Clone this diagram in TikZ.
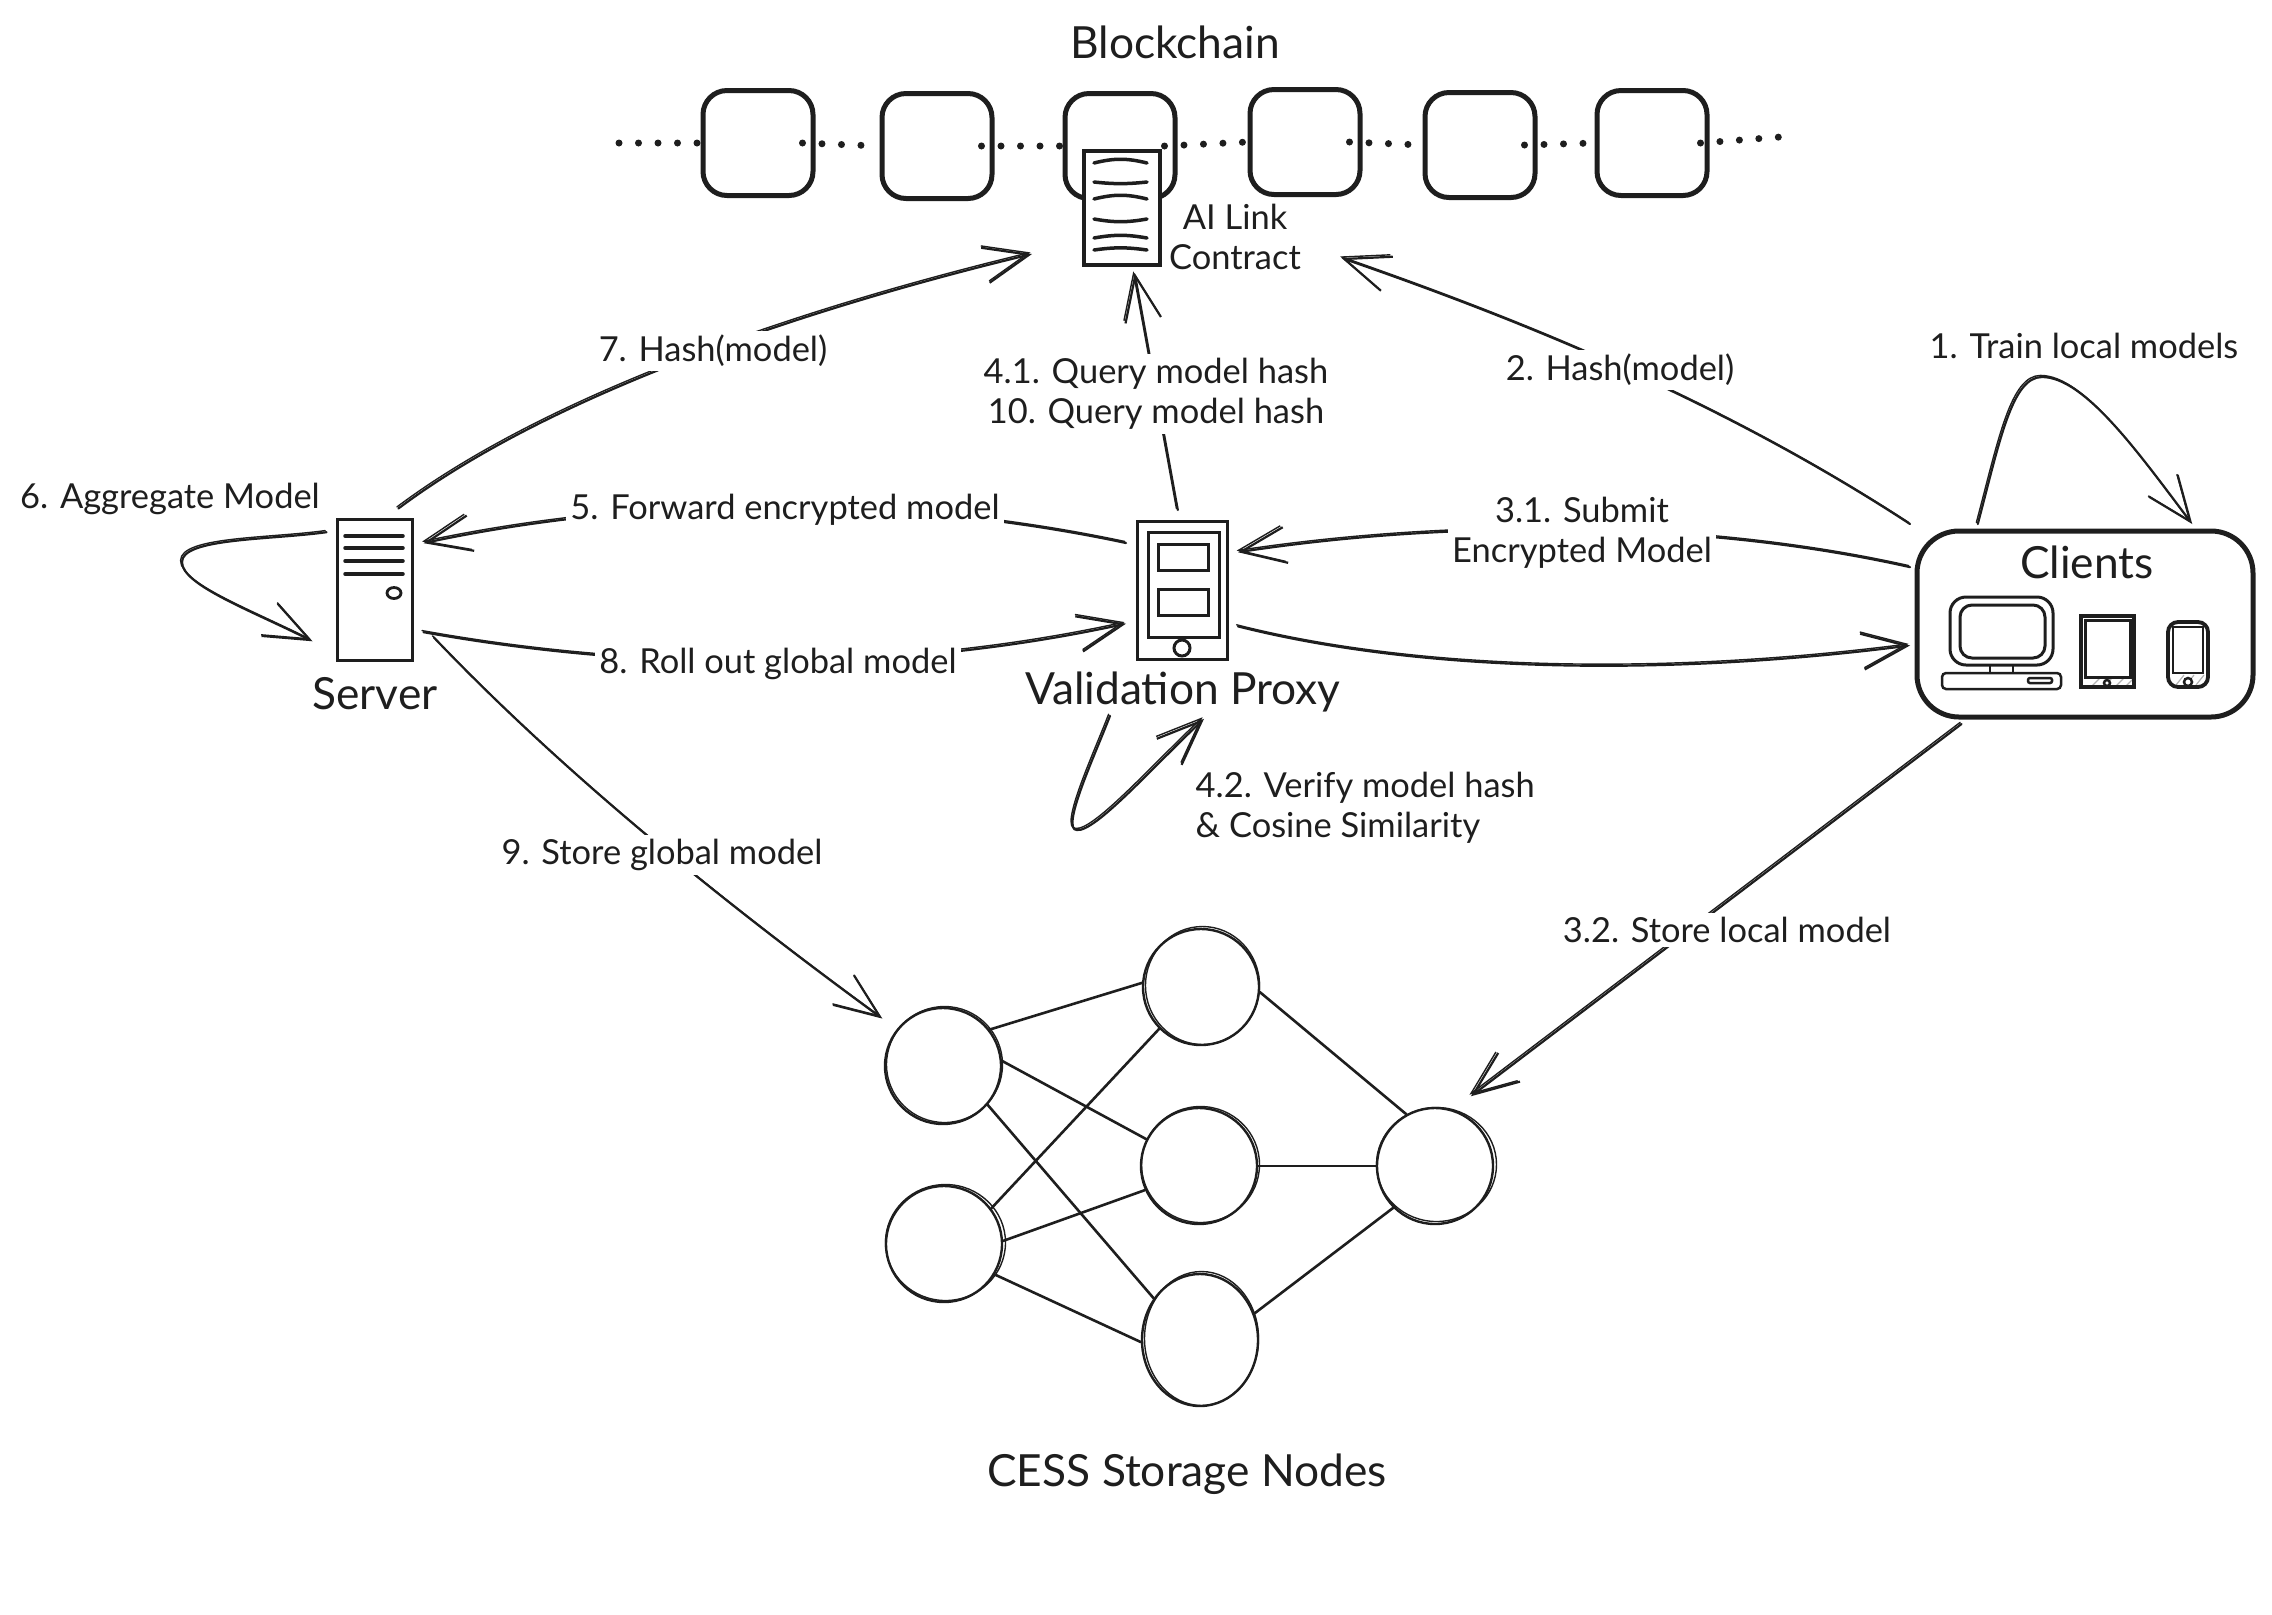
\documentclass[tikz,border=0pt]{standalone}
\usepackage{fontspec}
\setmainfont{Lato}
\usepackage{xcolor}
\definecolor{InkBlack}{HTML}{1E1E1E}
\usepackage{tikz}
\usetikzlibrary{arrows.meta,positioning,calc,shapes.geometric}
\begin{document}
\begin{tikzpicture}[x=0.1mm,y=-0.1mm,color=InkBlack,
  lbl/.style={fill=white,inner sep=0.4mm,align=center,text=InkBlack,font=\fontsize{9.8}{11.4}\selectfont},
  title/.style={inner sep=0.4mm,align=center,text=InkBlack,font=\fontsize{12.6}{14}\selectfont},
  arr/.style={-{Straight Barb[length=4.5mm,width=3.6mm]},line width=0.22mm,line cap=round,
    postaction={draw,line width=0.14mm,transform canvas={xshift=-0.14mm,yshift=0.16mm}}},
  block/.style={draw,fill=white,rounded corners=2.4mm,line width=0.5mm,minimum width=11mm,minimum height=10.5mm},
  dots/.style={line width=0.7mm,line cap=round,dash pattern=on 0pt off 1.95mm},
  icon/.style={draw,fill=white,line width=0.3mm,inner sep=0pt},
  store/.style={draw,circle,line width=0.24mm,minimum size=11.6mm,inner sep=0pt},
  link/.style={line width=0.26mm,line cap=round},
  scribble/.style={line width=0.35mm,line cap=round},
  hatch/.style={gray!60,line width=0.12mm}]
\useasboundingbox (0,0) rectangle (2272,1614);
\foreach \i/\x/\y in {1/758/143,2/937/146,3/1120/146,4/1305/142,5/1480/145,6/1652/143}{
  \node[block] (chain\i) at (\x,\y) {};
  \draw[line width=0.15mm,rounded corners=2.4mm] (\x-55,\y-52) rectangle (\x+56,\y+53);
}
\coordinate (chainL) at (619,143);
\coordinate (chainR) at (1780,137);
\draw[dots] (chainL) -- (chain1.west);
\foreach \a/\b in {1/2,2/3,3/4,4/5,5/6}{
  \draw[dots] ([xshift=-1.3mm]chain\a.east) -- (chain\b.west);
}
\draw[dots] ([xshift=-0.9mm]chain6.east) -- (chainR);
\node[title] (chainLbl) at (1175,42) {Blockchain};
\node[icon,line width=0.42mm,minimum width=7.6mm,minimum height=11.4mm,outer sep=0.8mm] (contract) at (1122,208) {};
\foreach \y/\b in {163/14,182/-6,199/14,219/-10,238/10,250/8}{
  \draw[scribble] (1094,\y) to[bend left=\b] (1147,\y);
}
\node[lbl,fill=none] (contractLbl) at (1235,237) {AI Link\\Contract};
\node[icon,minimum width=7.5mm,minimum height=14.1mm,outer sep=1.1mm] (server) at (375,590) {};
\foreach \y in {536,548,561,574}{
  \draw[scribble] (345,\y) -- (403,\y);
}
\draw[line width=0.28mm] (394,593) ellipse [x radius=7,y radius=5.5];
\node[title] (serverLbl) at (375,694) {Server};
\node[icon,minimum width=9mm,minimum height=13.8mm,outer sep=1.1mm] (proxy) at (1182,590) {};
\draw[line width=0.3mm] (1148,532) rectangle (1219,637);
\draw[line width=0.3mm] (1158,544) rectangle (1208,570);
\draw[line width=0.3mm] (1158,589) rectangle (1208,615);
\draw[line width=0.3mm] (1182,648) circle (8);
\node[title] (proxyLbl) at (1183,692) {Validation Proxy};
\node[draw,rounded corners=4.2mm,line width=0.5mm,minimum width=33.6mm,minimum height=18.6mm,inner sep=0pt,outer sep=0.7mm] (clients) at (2085,624) {};
\node[title] (clientsLbl) at (2087,562) {Clients};
\draw[line width=0.3mm,rounded corners=1.6mm] (1950,597) rectangle (2053,665);
\draw[line width=0.3mm,rounded corners=1.2mm] (1960,605) rectangle (2045,658);
\draw[line width=0.25mm] (1990,665) rectangle (2013,673);
\draw[line width=0.25mm,rounded corners=0.4mm] (1942,673) rectangle (2061,689);
\draw[line width=0.25mm,rounded corners=0.2mm] (2028,678) rectangle (2052,683);
\foreach \x in {2092,2104,2116,2126}{
  \draw[hatch] (\x,686) -- (\x+8,678);
}
\draw[line width=0.42mm] (2081,616) rectangle (2134,687);
\draw[line width=0.3mm] (2085,620) rectangle (2130,677);
\draw[line width=0.25mm,fill=white] (2107,683) circle (3);
\foreach \x in {2176,2186,2196}{
  \draw[hatch] (\x,685) -- (\x+8,675);
}
\draw[line width=0.38mm,rounded corners=1mm] (2168,622) rectangle (2208,687);
\draw[line width=0.25mm] (2173,627) rectangle (2203,673);
\draw[line width=0.25mm,fill=white] (2188,682) circle (4);
\foreach \n/\x/\y in {c1/943/1066,c2/944/1244,c3/1201/987,c4/1199/1166,c6/1435/1166}{
  \node[store] (\n) at (\x,\y) {};
}
\node[store,ellipse,minimum width=11.6mm,minimum height=13.2mm] (c5) at (1200,1340) {};
\foreach \n/\rx/\ry in {c1/58/58,c2/60/58,c3/57/59,c4/59/58,c5/57/67,c6/60/57}{
  \draw[line width=0.14mm] ([shift={(1.5,-1.5)}]\n.center) ellipse [x radius=\rx,y radius=\ry];
}
\foreach \a/\b in {c1.38/c3.176,c1.5/c4.153,c1.-41/c5.138,c2.37/c3.225,c2.3/c4.204,c2.-31/c5.182,c3.-5/c6.119,c4.0/c6.180,c5.26/c6.225}{
  \draw[link] (\a) -- (\b);
}
\node[title] (storeLbl) at (1187,1474) {CESS Storage Nodes};
\draw[arr] (server.74) .. controls (550,395) and (800,310) .. ([xshift=-4.4mm,yshift=-4.6mm]contract.west);
\draw[arr] (clients.north west) .. controls (1720,400) and (1520,320) .. ([xshift=3.6mm,yshift=-2.1mm]contractLbl.east);
\draw[arr] (proxy.93) -- (contract.-79);
\draw[arr] (proxy.140) .. controls (900,495) and (650,495) .. (server.44);
\draw[arr] (clients.162) .. controls (1700,520) and (1450,520) .. (proxy.34);
\draw[arr] (server.-41) .. controls (650,673) and (900,673) .. (proxy.211);
\draw[arr] (proxy.-33) .. controls (1430,675) and (1680,675) .. (clients.187);
\draw[arr,shorten <=1.5mm] (server.-37) .. controls (560,770) and (720,900) .. ([xshift=-1.4mm,yshift=1.1mm]c1.142);
\draw[arr] (clients.219) -- ([xshift=0.9mm,yshift=1.7mm]c6.63);
\draw[arr] (clients.137) .. controls (2000,440) and (2012,377) .. (2042,377) .. controls (2085,377) and (2140,455) .. (clients.43);
\draw[arr] (server.130) .. controls (270,540) and (182,538) .. (182,562) .. controls (182,585) and (250,610) .. ([xshift=-1.4mm,yshift=-1.2mm]server.219);
\draw[arr] ([xshift=-7.3mm,yshift=0.1mm]proxyLbl.south) .. controls (1095,755) and (1060,830) .. (1077,830) .. controls (1095,832) and (1150,770) .. ([xshift=2.1mm,yshift=-0.2mm]proxyLbl.south);
\node[lbl] (hashOutLbl) at (713,351) {7. Hash(model)};
\node[lbl] (hashInLbl) at (1620,370) {2. Hash(model)};
\node[lbl] (queryLbl) at (1156,394) {4.1. Query model hash\\10. Query model hash};
\node[lbl] (forwardLbl) at (785,510) {5. Forward encrypted model};
\node[lbl] (submitLbl) at (1582,533) {3.1. Submit\\Encrypted Model};
\node[lbl] (rollLbl) at (778,664) {8. Roll out global model};
\node[lbl] (globalLbl) at (662,855) {9. Store global model};
\node[lbl] (localLbl) at (1727,930) {3.2. Store local model};
\node[lbl,fill=none,align=left,anchor=west] (verifyLbl) at (1191,808) {4.2. Verify model hash\\\& Cosine Similarity};
\node[lbl,fill=none] (trainLbl) at (2084,346) {1. Train local models};
\node[lbl,fill=none] (aggLbl) at (170,499) {6. Aggregate Model};
\end{tikzpicture}
\end{document}
